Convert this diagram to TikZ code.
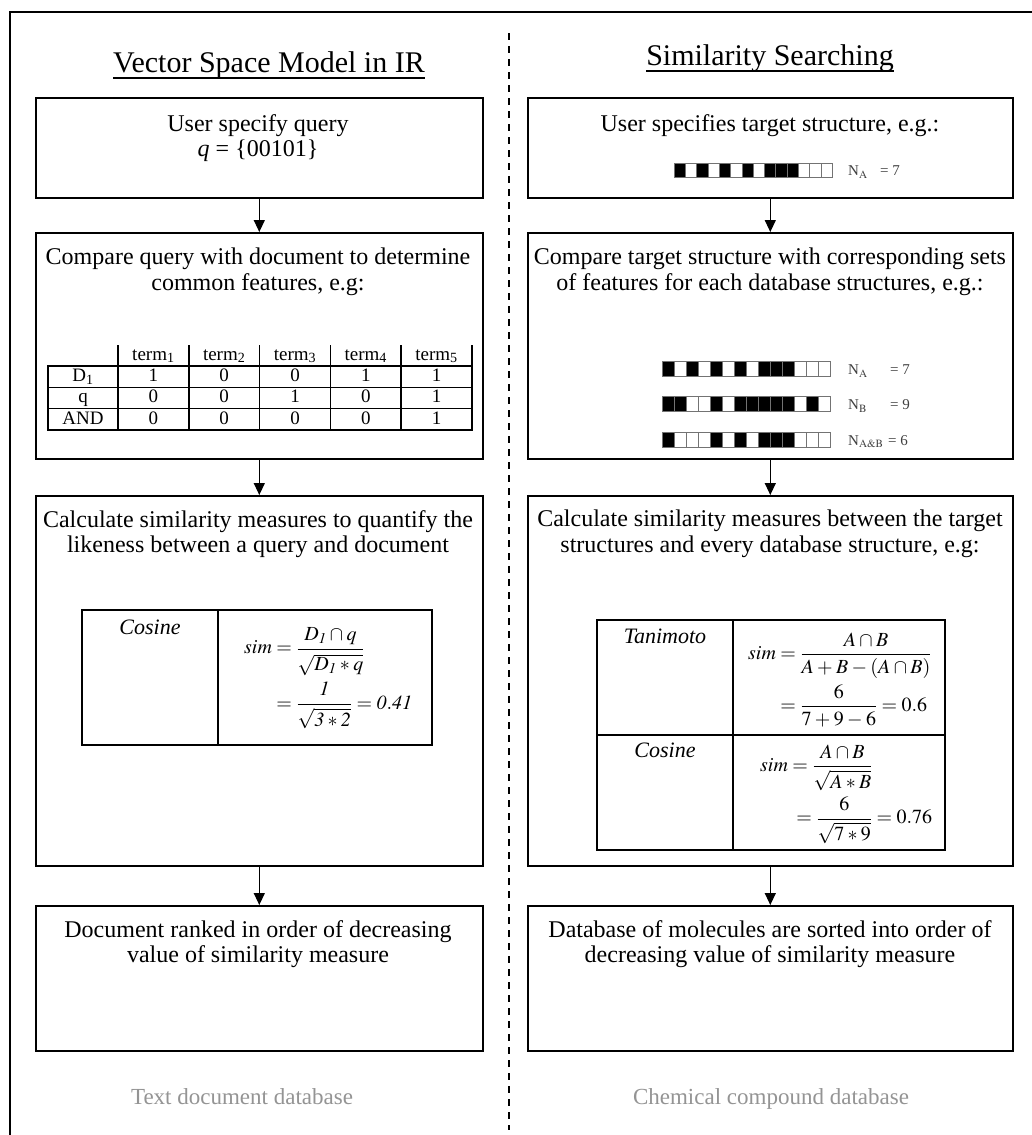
\documentclass[tikz,border=0pt]{standalone}
\usepackage{amsmath}
\usepackage{mathptmx}
\usepackage{fontspec}
\setmainfont{Liberation Serif}
\usetikzlibrary{arrows.meta}
\newcommand\bitrow[5]{%
  \foreach \b [count=\i from 0] in {#5} {%
    \filldraw[fill=black!\b, draw=black!55, line width=0.6pt]
      ({#1+\i*#3},{#2-#4/2}) rectangle ++(#3,#4);}}
\newcommand\rsq[1]{\rule{0pt}{19pt}\sqrt{#1}}
\newcommand\nmr[1]{#1\rule[-5pt]{0pt}{5pt}}
\tikzset{
  box/.style={draw, line width=1.6pt, anchor=north west, inner sep=0pt},
  arr/.style={line width=1.3pt, -{Triangle[width=11pt,length=12pt]}},
  txt/.style={align=center, font=\fontsize{24}{25.5}\selectfont, inner sep=0pt},
  ttl/.style={font=\fontsize{30}{34}\selectfont, inner sep=0pt, anchor=base},
  tab/.style={line width=1.6pt},
  cellt/.style={font=\fontsize{19}{21}\selectfont, inner sep=0pt, text height=12pt, text depth=3pt},
  frm/.style={font=\fontsize{20}{24}\selectfont, inner sep=0pt, anchor=west},
  lab/.style={font=\fontsize{22}{26}\selectfont\itshape, inner sep=0pt},
  gtxt/.style={text=black!42, font=\fontsize{23}{26}\selectfont, inner sep=0pt, anchor=base},
  bitlab/.style={font=\fontsize{15}{17}\selectfont, text=black!75, inner sep=0pt, anchor=west},
}
\begin{document}
\begin{tikzpicture}[x=1pt,y=-1pt]
\fill[white] (0,0) rectangle (1032,1135);
\useasboundingbox (0,0) rectangle (1032,1135);
% frame and divider
\draw[line width=1.6pt] (10,1135) -- (10,12) -- (1032,12);
\draw[line width=1.3pt, dash pattern=on 7pt off 6pt] (509,33) -- (509,1130);
% titles
\node[ttl] (T1) at (269,72) {Vector Space Model in IR};
\draw[line width=1.5pt] ([yshift=-6pt]T1.base west) -- ([yshift=-6pt]T1.base east);
\node[ttl] (T2) at (770,65) {Similarity Searching};
\draw[line width=1.5pt] ([yshift=-6pt]T2.base west) -- ([yshift=-6pt]T2.base east);
% boxes
\node[box, minimum width=447pt, minimum height=100pt] (L1) at (35,97) {};
\node[box, minimum width=485pt, minimum height=100pt] (R1) at (527,97) {};
\node[box, minimum width=447pt, minimum height=226pt] (L2) at (35,232) {};
\node[box, minimum width=485pt, minimum height=226pt] (R2) at (527,232) {};
\node[box, minimum width=447pt, minimum height=370pt] (L3) at (35,495) {};
\node[box, minimum width=485pt, minimum height=370pt] (R3) at (527,495) {};
\node[box, minimum width=447pt, minimum height=145pt] (L4) at (35,905) {};
\node[box, minimum width=485pt, minimum height=145pt] (R4) at (527,905) {};
% arrows
\draw[arr] (L1.south) -- (L2.north);
\draw[arr] (L2.south) -- (L3.north);
\draw[arr] (L3.south) -- (L4.north);
\draw[arr] (R1.south) -- (R2.north);
\draw[arr] (R2.south) -- (R3.north);
\draw[arr] (R3.south) -- (R4.north);
% box texts
\node[txt] (t1) at (258,138) {User specify query\\ \textit{q} = \{00101\}};
\node[txt] (t2) at (770,126) {User specifies target structure, e.g.:};
\node[txt] (t3) at (258,272) {Compare query with document to determine\\common features, e.g:};
\node[txt] (t4) at (770,272) {Compare target structure with corresponding sets\\of features for each database structures, e.g.:};
\node[txt] (t5) at (258,534) {Calculate similarity measures to quantify the\\likeness between a query and document};
\node[txt] (t6) at (770,534) {Calculate similarity measures between the target\\structures and every database structure, e.g:};
\node[txt] (t7) at (258,944) {Document ranked in order of decreasing\\value of similarity measure};
\node[txt] (t8) at (770,944) {Database of molecules are sorted into order of\\decreasing value of similarity measure};
% bottom grey texts
\node[gtxt] (g1) at (242,1104) {Text document database};
\node[gtxt] (g2) at (771,1104) {Chemical compound database};
% bit strings
\bitrow{674}{170}{11.3}{14}{100,0,100,0,100,0,100,0,100,100,100,0,0,0}
\node[bitlab] (nA0) at (848,172) {N$_{\mathrm{A}}$};
\node[bitlab] (eA0) at (880,171) {= 7};
\bitrow{662}{369}{12}{15}{100,0,100,0,100,0,100,0,100,100,100,0,0,0}
\bitrow{662}{404}{12}{15}{100,100,0,0,100,0,100,100,100,100,100,0,100,0}
\bitrow{662}{440}{12}{15}{100,0,0,0,100,0,100,0,100,100,100,0,0,0}
\node[bitlab] (nA) at (848,371) {N$_{\mathrm{A}}$};
\node[bitlab] (eA) at (890,370) {= 7};
\node[bitlab] (nB) at (848,406) {N$_{\mathrm{B}}$};
\node[bitlab] (eB) at (890,405) {= 9};
\node[bitlab] (nAB) at (848,442) {N$_{\mathrm{A\&B}}$};
\node[bitlab] (eAB) at (888,441) {= 6};
% left comparison table
\foreach \x in {118,188.8,259.6,330.4,401.2,472} {\draw[tab] (\x,345) -- (\x,430);}
\draw[tab] (48,366) -- (48,430);
\foreach \y in {366,387.3,408.6,430} {\draw[tab] (47.2,\y) -- (472.8,\y);}
\foreach \t [count=\c] in {1,...,5} {
  \node[cellt] (h\c) at ({118+70.8*(\c-1)+35.4},355.5) {term\textsubscript{\t}};}
\foreach \lab [count=\r] in {D\textsubscript{1},q,AND} {
  \node[cellt] (r\r) at (83,{366+21.3*(\r-1)+11}) {\lab};}
\foreach \vals [count=\r] in {{1,0,0,1,1},{0,0,1,0,1},{0,0,0,0,1}} {
  \foreach \v [count=\c] in \vals {
    \node[cellt] (v\r\c) at ({118+70.8*(\c-1)+35.4},{366+21.3*(\r-1)+11}) {\v};}}
% left similarity table
\draw[tab] (82,610) rectangle (432,745);
\draw[tab] (218,610) -- (218,745);
\node[lab] (cosL) at (150,627) {Cosine};
\node[frm] (fL) at (244,678) {$\medmuskip=3mu\begin{aligned}\mathit{sim}&=\dfrac{\nmr{D_{\mathit{1}}\cap q}}{\rsq{D_{\mathit{1}}*q}}\\[3pt]
 &=\dfrac{\mathit{1}}{\rsq{\mathit{3}*\mathit{2}}}=\mathit{0.41}\end{aligned}$};
% right similarity table
\draw[tab] (597,620) rectangle (945,850);
\draw[tab] (733,620) -- (733,850);
\draw[tab] (597,735) -- (945,735);
\node[lab] (tani) at (665,636) {Tanimoto};
\node[lab] (cosR) at (665,750) {Cosine};
\node[frm] (fT) at (748,680) {$\medmuskip=3mu\begin{aligned}\mathit{sim}&=\dfrac{A\cap B}{A+B-(A\cap B)}\\[2pt]
 &=\dfrac{6}{7+9-6}=0.6\end{aligned}$};
\node[frm] (fC) at (760,794) {$\medmuskip=3mu\begin{aligned}\mathit{sim}&=\dfrac{\nmr{A\cap B}}{\rsq{A*B}}\\[2pt]
 &\hspace{4pt}=\dfrac{6}{\rsq{7*9}}=0.76\end{aligned}$};
\end{tikzpicture}
\end{document}
